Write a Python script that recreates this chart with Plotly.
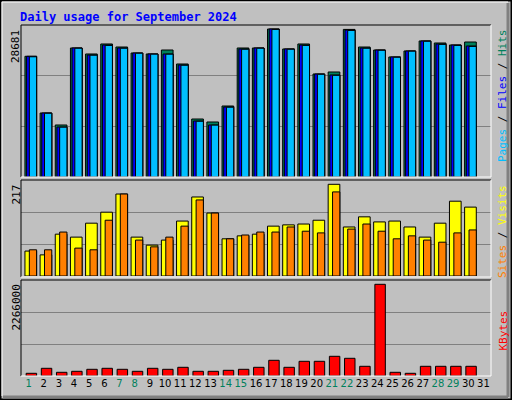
import plotly.graph_objects as go

days = list(range(1, 32))
weekend = [1, 7, 8, 14, 15, 21, 22, 28, 29]

hits = [23390, 12400, 10080, 25000, 23840, 25780, 25190, 24030, 23840, 24610,
        21900, 11240, 10660, 13760, 25000, 25000, 28681, 24810, 25780, 19960,
        20350, 28600, 25190, 24610, 23260, 24420, 26360, 25970, 25580, 26160]
files = [23390, 12400, 9690, 25000, 23640, 25580, 25000, 24030, 23840, 23840,
         21710, 10850, 10080, 13570, 24810, 25000, 28680, 24810, 25580, 19960,
         19770, 28490, 25000, 24610, 23260, 24420, 26360, 25780, 25580, 25390]
pages = [23300, 12350, 9650, 24950, 23600, 25500, 24950, 23980, 23800, 23800,
         21650, 10800, 10050, 13520, 24750, 24950, 28600, 24750, 25500, 19900,
         19700, 28400, 24950, 24550, 23200, 24380, 26300, 25700, 25500, 25300]
visits = [59, 50, 99, 92, 125, 151, 194, 92, 73, 85, 130, 187, 149, 88, 95,
          99, 118, 121, 123, 132, 217, 116, 140, 128, 130, 116, 92, 125, 177, 163]
sites = [62, 62, 104, 66, 62, 132, 194, 85, 69, 92, 118, 180, 149, 88, 97,
         104, 104, 116, 106, 102, 199, 111, 123, 106, 88, 95, 85, 80, 102, 109]
kbytes = [66700, 190300, 91400, 116100, 165600, 190300, 165600, 116100, 190300, 165600,
          215000, 116100, 116100, 140900, 165600, 215000, 388000, 215000, 363300, 363300,
          486800, 437400, 239700, 2266000, 91400, 66700, 239700, 239700, 239700, 239700]

x30 = days[:30]
BG = "#c0c0c0"
fig = go.Figure()

def bar(y, color, off, w, ax):
    fig.add_trace(go.Bar(x=x30, y=y, offset=off, width=w, marker_color=color,
                         marker_line=dict(color="black", width=1),
                         xaxis="x" + ax, yaxis="y" + ax, showlegend=False))

bar(hits, "#00805c", -0.24, 0.77, "")
bar(files, "#0000ff", -0.13, 0.66, "")
bar(pages, "#00bfff", 0.05, 0.48, "")
bar(visits, "#ffff00", -0.24, 0.77, "2")
bar(sites, "#ff8000", 0.05, 0.48, "2")
bar(kbytes, "#ff0000", -0.16, 0.69, "3")

xd = [21 / 512, 491 / 512]
ticktext = [("<span style='color:#00805c'>%d</span>" % d) if d in weekend else str(d)
            for d in days]
common_x = dict(range=[0.5, 31.5], domain=xd, showgrid=False, zeroline=False,
                fixedrange=True)
common_y = dict(showgrid=True, gridcolor="#808080", gridwidth=1, zeroline=False,
                showticklabels=False, ticks="")

fig.update_layout(
    width=512, height=400, margin=dict(l=0, r=0, t=0, b=0),
    paper_bgcolor=BG, plot_bgcolor=BG, barmode="overlay",
    font=dict(family="DejaVu Sans", size=11, color="black"),
    xaxis=dict(**common_x, anchor="y", showticklabels=False),
    xaxis2=dict(**common_x, anchor="y2", showticklabels=False),
    xaxis3=dict(**common_x, anchor="y3", tickmode="array", tickvals=days,
                ticktext=ticktext, ticks="", tickangle=0, ticklen=0,
                tickfont=dict(size=10, family="DejaVu Sans")),
    yaxis=dict(**common_y, domain=[0.5575, 0.9375], range=[0, 28681 * 152 / 148],
               tickvals=[28681 * 152 / 148 / 3, 28681 * 152 / 148 * 2 / 3]),
    yaxis2=dict(**common_y, domain=[0.31, 0.55], range=[0, 217 * 96 / 91.7],
                tickvals=[217 * 96 / 91.7 / 3, 217 * 96 / 91.7 * 2 / 3]),
    yaxis3=dict(**common_y, domain=[0.06, 0.30], range=[0, 2266000 * 96 / 91.7],
                tickvals=[2266000 * 96 / 91.7 / 3, 2266000 * 96 / 91.7 * 2 / 3]),
)

def line(x0, y0, x1, y1, color, w=1):
    fig.add_shape(type="line", xref="paper", yref="paper",
                  x0=x0 / 512, y0=1 - y0 / 400, x1=x1 / 512, y1=1 - y1 / 400,
                  line=dict(color=color, width=w))

# outer frame
fig.add_shape(type="rect", xref="paper", yref="paper", x0=0.001, y0=0.001, x1=0.999,
              y1=0.999, line=dict(color="black", width=2))
line(2, 2, 508, 2, "white"); line(2, 2, 2, 396, "white")
line(508, 3, 508, 397, "#808080", 3); line(3, 397, 508, 397, "#808080", 3)
# panel frames
for top, bot in [(25, 177), (180, 277), (280, 376)]:
    line(21, top, 491, top, "black"); line(21, top, 21, bot, "black")
    line(491, top, 491, bot, "white"); line(21, bot, 491, bot, "white")

def ann(text, x, y, angle=0, anchor="left", yanchor="top", color="black", size=11, bold=False):
    fig.add_annotation(text="<b>%s</b>" % text if bold else text, x=x / 512, y=1 - y / 400,
                       xref="paper", yref="paper", showarrow=False, textangle=angle,
                       xanchor=anchor, yanchor=yanchor,
                       font=dict(color=color, size=size, family="DejaVu Sans Mono"))

ann("Daily usage for September 2024", 18, 8, color="#0000ff", size=12, bold=True)
ann("28681", 7, 28, -90)
ann("217", 7, 183, -90)
ann("2266000", 7, 283, -90)
ann("<span style='color:#00bfff'>Pages</span> / <span style='color:#0000ff'>Files</span>"
    " / <span style='color:#00805c'>Hits</span>", 494, 27, -90)
ann("<span style='color:#ff8000'>Sites</span> / <span style='color:#ffff00'>Visits</span>",
    494, 183, -90)
ann("KBytes", 494, 309, -90, color="#ff0000")

fig.write_html("out.html", post_script="document.body.style.margin='0';",
               config={"displayModeBar": False})
